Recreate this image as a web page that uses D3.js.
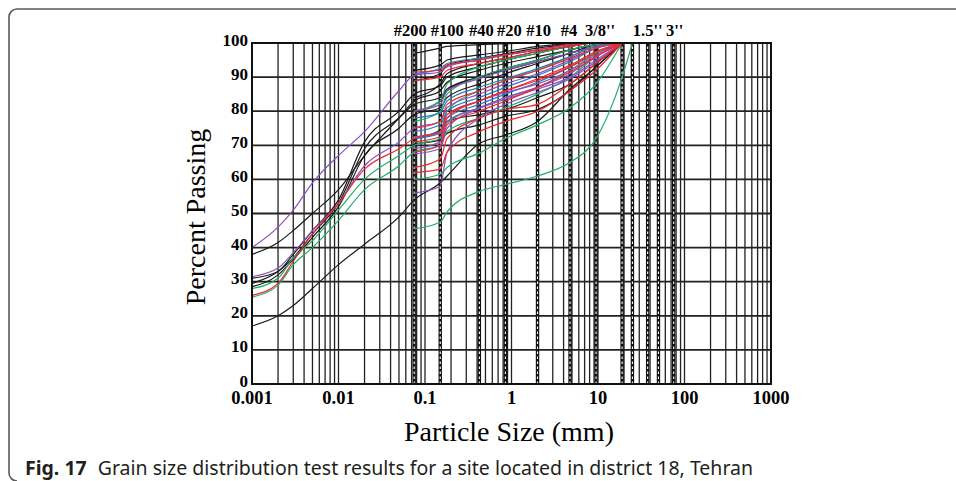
<!DOCTYPE html>
<html>
<head>
<meta charset="utf-8">
<script src="https://cdn.jsdelivr.net/npm/d3@7"></script>
<style>
  body { margin: 0; background: #fff; }
  svg { display: block; }
</style>
</head>
<body>
<svg id="gsd"></svg>
<script>
// GRAIN SIZE DISTRIBUTION CURVES (district 18, Tehran)

//particle sizes (mm) of the hydrometer readings and of the sieves
var hydroSizes = [0.001, 0.002, 0.003, 0.005, 0.01, 0.02, 0.05];
var sieveSizes = [0.075, 0.15, 0.18, 0.425, 0.85, 2, 4.75, 9.5, 19, 25];

//sieve marks drawn as dashed lines, and their labels on top
var sieveLines = [0.075, 0.15, 0.425, 0.85, 2, 4.75, 9.5, 19, 25, 37.5, 50, 75];
var sieveLabels = ['#200', '#100', '#40', '#20', '#10', '#4', "3/8''", "1.5''", "3''"];
var sieveLabelSizes = [0.075, 0.15, 0.425, 0.85, 2, 4.75, 9.5, 37.5, 75];

//axis ticks
var xTickValues = [0.001, 0.01, 0.1, 1, 10, 100, 1000];
var xTickLabels = ['0.001', '0.01', '0.1', '1', '10', '100', '1000'];
var yTickValues = [0, 10, 20, 30, 40, 50, 60, 70, 80, 90, 100];

//samples with hydrometer + sieve (hydroSizes then sieveSizes)
var hydroBlack = [
  [17, 20, 23, 28, 35, 41, 49, 54, 59, 61, 70.5, 73, 77, 86.5, 93, 100, null],
  [38, 41.5, 45, 50, 57, 67, 78, 83, 86, 88.5, 92, 94, 96, 98, 99.5, 100, null],
  [31, 33, 38, 45, 54, 71, 80, 85, 87.5, 90, 93, 95, 97, 99, 100, 100, null],
  [29.5, 33, 37, 44, 53, 69, 78, 82, 84, 86.5, 90, 92.5, 95, 98, 99.5, 100, null],
  [28.5, 32, 36.5, 43, 52, 67, 75, 79, 81, 84, 88, 91, 94, 97, 99.5, 100, null]
];
var hydroPurple = [
  [40, 46, 51, 59, 67, 74, 86, 90.5, 91.5, 93, 95, 96.5, 98, 99.5, 100, 100, null],
  [31.5, 34, 38.5, 45, 53, 64, 71, 75, 77, 81, 85, 88, 91, 95, 98.5, 100, null]
];
var hydroRed = [
  [26, 29.5, 36, 44, 53, 63, 69, 72, 74, 79, 83, 86, 89, 93, 97, 100, null]
];
var hydroGreen = [
  [28, 31, 37, 42, 51, 60, 67, 70, 72, 76.5, 81, 84, 87, 92, 97, 100, null],
  [25.5, 29, 35, 40, 48, 57, 64, 68, 70, 74, 78, 81, 85, 90, 96, 100, null]
];

//samples with sieve analysis only (sieveSizes)
var sieveBlack = [
  [97, 98.5, 99, 99.5, 99.8, 100, 100, 100, 100, null],
  [92, 93.5, 95, 96.5, 97.5, 99, 99.8, 100, 100, null],
  [89, 91, 93.5, 95.5, 96.8, 98.5, 99.5, 100, 100, null],
  [84, 88, 91, 94, 95.5, 97.5, 99, 100, 100, null],
  [80, 83, 86, 90, 92, 94.5, 97, 99, 100, null],
  [70.5, 71.5, 73.5, 76, 78.5, 80.5, 86, 93, 100, null],
  [72, 74.5, 77, 79, 80.5, 84, 88, 94, 100, null]
];
var sieveRed = [
  [91.5, 92, 93.5, 95, 96.5, 98, 99.5, 100, 100, null],
  [89, 90, 92, 94, 95.5, 97.5, 99, 100, 100, null],
  [75, 77, 82, 86, 89, 92, 95.5, 98.5, 100, null],
  [71, 72.5, 78, 83, 86, 89.5, 93.5, 97.5, 100, null],
  [68, 70, 76, 80, 83, 87, 91.5, 96, 100, null],
  [63.5, 66, 72, 78, 80.5, 82, 88, 94, 100, null],
  [62, 63, 68, 74, 77, 80, 86, 92, 100, null]
];
var sieveBlue = [
  [91, 92.5, 94, 95.5, 96.5, 98, 99.5, 100, 100, null],
  [78, 79.5, 83, 87, 89.5, 92.5, 96, 99, 100, null],
  [74, 76, 80, 84, 87, 90.5, 94.5, 98.5, 100, null],
  [72, 73.5, 78, 82, 85, 88.5, 93, 97.5, 100, null]
];
var sieveGreen = [
  [80, 83, 88, 93, 95, 97, 99, 100, 100, null],
  [77, 80, 85, 90, 92.5, 95, 98, 99.5, 100, null],
  [72, 74, 80, 86, 89, 92, 96, 99, 100, null],
  [60, 61.5, 63.5, 67.7, 72, 76, 81, 88, 100, null],
  [45.5, 47.5, 50.5, 56.5, 58.5, 61, 65, 72, 90, 100]
];
var sievePurple = [
  [80, 82, 86, 89.5, 92, 94.5, 97, 99, 100, null],
  [72.5, 74, 79, 83, 85.5, 88, 92, 96.5, 100, null],
  [69, 71, 77, 81, 84, 87, 91, 96, 100, null],
  [67.5, 69, 75, 80.8, 83.5, 86.5, 90, 95, 100, null],
  [56, 58, 68, 78, 82, 85.5, 89.5, 94.5, 100, null]
];

function gsdChart() {
    var svg = d3.select('#gsd')
        .attr('width', 956)
        .attr('height', 481);

    var colors = {black: '#1a1a1a', purple: '#8c4fc0', red: '#ec2a2f', green: '#23ad6a', blue: '#2a7bbd'};

    //plot extent
    var x = d3.scaleLog().domain([0.001, 1000]).range([252, 771]);
    var y = d3.scaleLinear().domain([0, 100]).range([384, 43]);

    //frame around figure (page clip)
    svg.append('path')
        .attr('d', 'M956,9 H17 A8,8 0 0 0 9,17 V473 A8,8 0 0 0 17,481')
        .attr('fill', 'none')
        .attr('stroke', '#5a5a5a')
        .attr('stroke-width', 1.6);

    var grid = svg.append('g').attr('class', 'grid');

    //vertical log grid (1..9 x 10^k)
    grid.selectAll('line.v').data(x.ticks())
        .enter().append('line')
            .attr('class', 'v')
            .attr('x1', d => x(d)).attr('x2', d => x(d))
            .attr('y1', y(0)).attr('y2', y(100))
            .attr('stroke', '#222')
            .attr('stroke-width', 1.3);

    //horizontal grid
    grid.selectAll('line.h').data(yTickValues)
        .enter().append('line')
            .attr('class', 'h')
            .attr('x1', x(0.001)).attr('x2', x(1000))
            .attr('y1', d => y(d)).attr('y2', d => y(d))
            .attr('stroke', '#222')
            .attr('stroke-width', 1.8);

    //sieve lines: black with white dashes
    var sieve = svg.append('g').attr('class', 'sieves');
    sieve.selectAll('line.s').data(sieveLines)
        .enter().append('line')
            .attr('x1', d => x(d)).attr('x2', d => x(d))
            .attr('y1', y(0)).attr('y2', y(100))
            .attr('stroke', '#111')
            .attr('stroke-width', 3.4);
    sieve.selectAll('line.d').data(sieveLines)
        .enter().append('line')
            .attr('x1', d => x(d)).attr('x2', d => x(d))
            .attr('y1', y(0)).attr('y2', y(100))
            .attr('stroke', '#fff')
            .attr('stroke-width', 1.1)
            .attr('stroke-dasharray', '2.5,2.5');

    //curves
    var line = d3.line()
        .defined(d => d[1] != null)
        .x(d => x(d[0]))
        .y(d => y(d[1]))
        .curve(d3.curveMonotoneX);

    var hydroX = hydroSizes.concat(sieveSizes);
    var series = [];
    function addSet(rows, sizes, color) {
        rows.forEach(r => series.push({color: color, pts: r.map((v, i) => [sizes[i], v])}));
    }
    addSet(hydroBlack, hydroX, colors.black);
    addSet(sieveBlack, sieveSizes, colors.black);
    addSet(sieveGreen, sieveSizes, colors.green);
    addSet(hydroGreen, hydroX, colors.green);
    addSet(sieveBlue, sieveSizes, colors.blue);
    addSet(sievePurple, sieveSizes, colors.purple);
    addSet(hydroPurple, hydroX, colors.purple);
    addSet(sieveRed, sieveSizes, colors.red);
    addSet(hydroRed, hydroX, colors.red);

    svg.append('g').attr('class', 'curves')
        .selectAll('path').data(series)
        .enter().append('path')
            .attr('d', d => line(d.pts))
            .attr('fill', 'none')
            .attr('stroke', d => d.color)
            .attr('stroke-width', 1.2);

    //outer frame of the plot
    svg.append('rect')
        .attr('x', x(0.001)).attr('y', y(100))
        .attr('width', x(1000) - x(0.001))
        .attr('height', y(0) - y(100))
        .attr('fill', 'none')
        .attr('stroke', '#111')
        .attr('stroke-width', 2);

    var serif = '"Liberation Serif", "Times New Roman", serif';

    //x tick labels
    svg.append('g').selectAll('text').data(xTickValues)
        .enter().append('text')
            .attr('x', d => x(d))
            .attr('y', 404)
            .attr('text-anchor', 'middle')
            .style('font-family', serif)
            .style('font-weight', 'bold')
            .style('font-size', '18.5px')
            .text((d, i) => xTickLabels[i]);

    //y tick labels
    svg.append('g').selectAll('text').data(yTickValues)
        .enter().append('text')
            .attr('x', 248)
            .attr('y', d => y(d) + 2.5)
            .attr('text-anchor', 'end')
            .style('font-family', serif)
            .style('font-weight', 'bold')
            .style('font-size', '17px')
            .text(d => d);

    //sieve labels across the top (nudged apart where they crowd)
    var nudge = {'#200': -4, '#100': 7, '#40': 2, '#20': 4, '#10': 1, '#4': -1, "3/8''": 4, "1.5''": 0, "3''": 1};
    svg.append('g').selectAll('text').data(sieveLabelSizes)
        .enter().append('text')
            .attr('x', (d, i) => x(d) + nudge[sieveLabels[i]])
            .attr('y', 36)
            .attr('text-anchor', 'middle')
            .style('font-family', serif)
            .style('font-weight', 'bold')
            .style('font-size', '16.5px')
            .text((d, i) => sieveLabels[i]);

    //axis titles
    svg.append('text')
        .attr('x', 509)
        .attr('y', 441)
        .attr('text-anchor', 'middle')
        .style('font-family', serif)
        .style('font-size', '28px')
        .text('Particle Size (mm)');

    svg.append('text')
        .attr('transform', 'translate(205,217) rotate(-90)')
        .attr('text-anchor', 'middle')
        .style('font-family', serif)
        .style('font-size', '28px')
        .text('Percent Passing');

    //caption
    var cap = svg.append('text')
        .attr('x', 25)
        .attr('y', 475)
        .style('font-family', '"Noto Sans", sans-serif')
        .style('font-size', '19.5px')
        .attr('fill', '#231f20');
    cap.append('tspan').style('font-weight', 'bold').text('Fig. 17');
    cap.append('tspan').attr('dx', 11).text('Grain size distribution test results for a site located in district 18, Tehran');
}

gsdChart();
</script>
</body>
</html>
